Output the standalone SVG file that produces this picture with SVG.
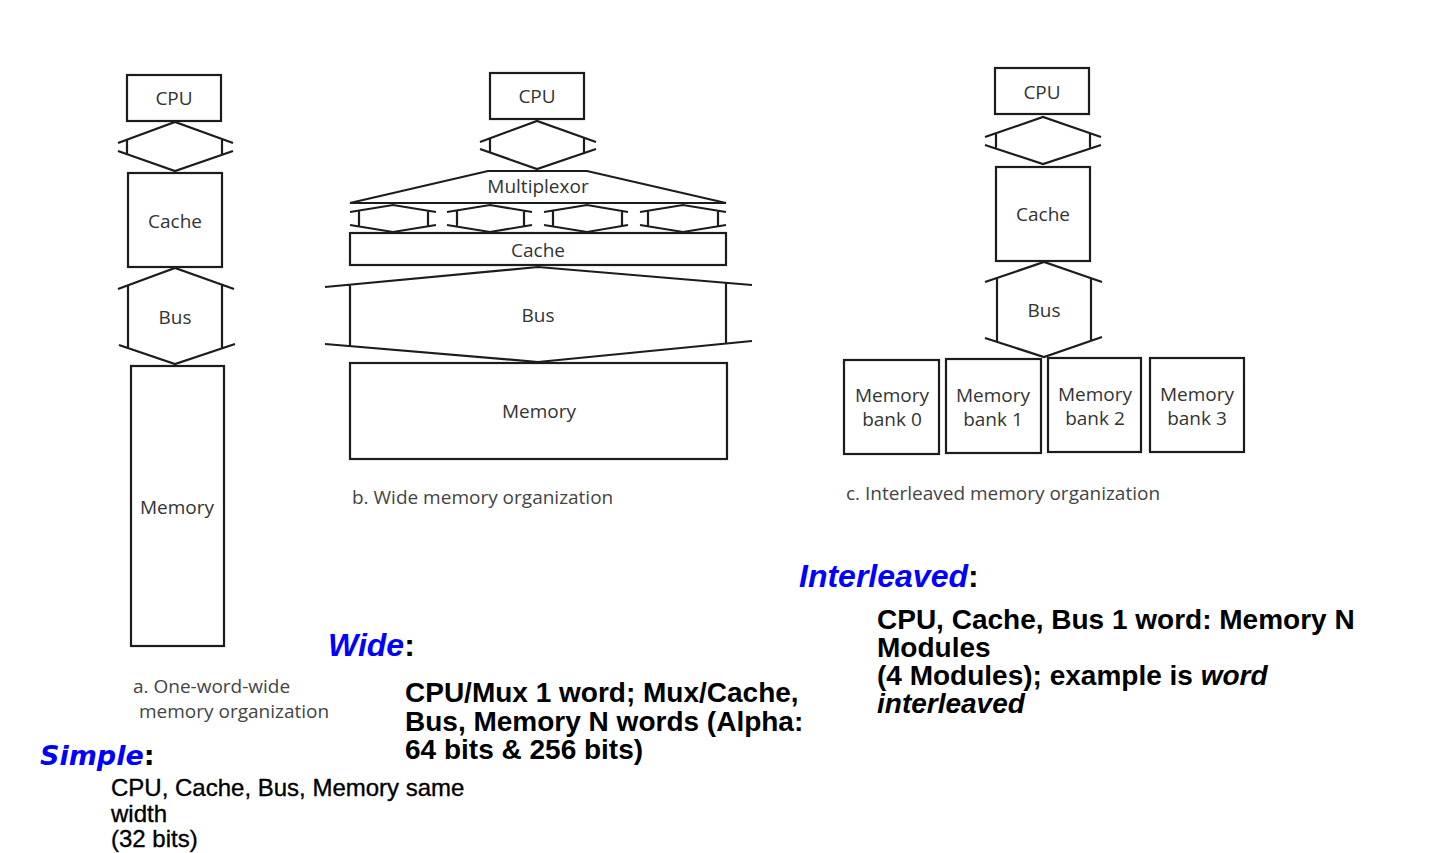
<svg xmlns="http://www.w3.org/2000/svg" width="1432" height="853" viewBox="0 0 1432 853">
<style>
.box{fill:#fff;stroke:#1c1c1c;stroke-width:2.2}
.ln{fill:none;stroke:#1c1c1c;stroke-width:2.2;stroke-linejoin:miter}
.lbl{font-family:"Open Sans","Liberation Sans",sans-serif;font-size:19px;fill:#333;text-anchor:middle}
.cap{font-family:"Open Sans","Liberation Sans",sans-serif;font-size:19px;fill:#444}
.hd{font-family:"Liberation Sans",Arial,sans-serif;font-weight:bold;font-style:italic;font-size:32px;fill:#0000ff}
.hdv{font-family:"DejaVu Sans",Verdana,sans-serif;font-weight:bold;font-style:italic;font-size:27px;fill:#0000ff}
.colon{fill:#000;font-style:normal}
.bd{font-family:"Liberation Sans",Arial,sans-serif;font-weight:bold;font-size:28px;fill:#000}
.rg{font-family:"Liberation Sans",Arial,sans-serif;font-size:24px;fill:#000;stroke:#000;stroke-width:0.35}
</style>
<rect width="1432" height="853" fill="#fff"/>

<!-- connectors / buses -->
<g id="connectors">
  <!-- a: CPU-Cache -->
  <path class="ln" d="M118,143 L175,122 L233,143 M118,151 L175,171 L233,151 M127,139.5 V154 M222,139.5 V154"/>
  <!-- a: Bus -->
  <path class="ln" d="M118,289 L175,268 L234,289 M119,345 L175,364 L235,344 M128,285 V348 M222,285 V348"/>
  <!-- b: CPU-Mux -->
  <path class="ln" d="M480,142 L537,121 L596,142 M480,149 L537,169 L596,149 M490,138.5 V152.5 M584,138.5 V152.5"/>
  <!-- b: Mux-Cache x4 -->
  <path class="ln" d="M350,212 L393,205 L436,212 M350,225 L393,232 L436,225 M359,210.5 V226.5 M428,210.5 V226.5"/>
  <path class="ln" d="M447,212 L490,205 L532,212 M447,225 L490,232 L532,225 M457,210.5 V226.5 M524,210.5 V226.5"/>
  <path class="ln" d="M544,212 L587,205 L628,212 M544,225 L587,232 L628,225 M553,210.5 V226.5 M622,210.5 V226.5"/>
  <path class="ln" d="M640,212 L683,205 L726,212 M640,225 L683,232 L726,225 M648,210.5 V226.5 M718,210.5 V226.5"/>
  <!-- b: Bus -->
  <path class="ln" d="M325,287 L538,267 L752,285 M325,344 L538,362 L752,341 M350,284.5 V346 M726,283 V343.5"/>
  <!-- c: CPU-Cache -->
  <path class="ln" d="M985,137 L1043,117 L1101,137 M985,145 L1043,164 L1101,145 M996,133.5 V147.5 M1090,133.5 V147.5"/>
  <!-- c: Bus -->
  <path class="ln" d="M985,282 L1044,262 L1102,282 M985,338 L1044,357 L1102,337 M997,278.5 V341.5 M1091,278.5 V340.5"/>
</g>

<!-- a. one-word-wide -->
<g id="a-cpu"><rect class="box" x="127" y="75" width="94" height="46"/><text class="lbl" x="174" y="105">CPU</text></g>
<g id="a-cache"><rect class="box" x="128" y="173" width="94" height="94"/><text class="lbl" x="175" y="228">Cache</text></g>
<g id="a-bus"><text class="lbl" x="175" y="324">Bus</text></g>
<g id="a-memory"><rect class="box" x="131" y="366" width="93" height="280"/><text class="lbl" x="177" y="514">Memory</text></g>
<g id="a-caption"><text class="cap" x="133" y="693">a. One-word-wide</text><text class="cap" x="139" y="718">memory organization</text></g>

<!-- b. wide -->
<g id="b-cpu"><rect class="box" x="490" y="73" width="94" height="46"/><text class="lbl" x="537" y="103">CPU</text></g>
<g id="b-mux"><path class="box" d="M488,171 L587,171 L726,203 L350,203 Z"/><text class="lbl" x="538" y="193">Multiplexor</text></g>
<g id="b-cache"><rect class="box" x="350" y="233" width="376" height="32"/><text class="lbl" x="538" y="257">Cache</text></g>
<g id="b-bus"><text class="lbl" x="538" y="322">Bus</text></g>
<g id="b-memory"><rect class="box" x="350" y="363" width="377" height="96"/><text class="lbl" x="539" y="418">Memory</text></g>
<g id="b-caption"><text class="cap" x="352" y="504">b. Wide memory organization</text></g>

<!-- c. interleaved -->
<g id="c-cpu"><rect class="box" x="995" y="68" width="94" height="46"/><text class="lbl" x="1042" y="99">CPU</text></g>
<g id="c-cache"><rect class="box" x="996" y="167" width="94" height="94"/><text class="lbl" x="1043" y="221">Cache</text></g>
<g id="c-bus"><text class="lbl" x="1044" y="317">Bus</text></g>
<g id="c-bank0"><rect class="box" x="844" y="360" width="95" height="94"/><text class="lbl" x="892" y="402">Memory</text><text class="lbl" x="892" y="426">bank 0</text></g>
<g id="c-bank1"><rect class="box" x="946" y="359" width="95" height="94"/><text class="lbl" x="993" y="402">Memory</text><text class="lbl" x="993" y="426">bank 1</text></g>
<g id="c-bank2"><rect class="box" x="1048" y="358" width="93" height="94"/><text class="lbl" x="1095" y="401">Memory</text><text class="lbl" x="1095" y="425">bank 2</text></g>
<g id="c-bank3"><rect class="box" x="1150" y="358" width="94" height="94"/><text class="lbl" x="1197" y="401">Memory</text><text class="lbl" x="1197" y="425">bank 3</text></g>
<g id="c-caption"><text class="cap" x="846" y="500">c. Interleaved memory organization</text></g>

<!-- explanatory text -->
<g id="simple-text">
  <text class="hdv" x="40" y="765">Simple<tspan class="colon">:</tspan></text>
  <text class="rg" x="111" y="796">CPU, Cache, Bus, Memory same</text>
  <text class="rg" x="111" y="822">width</text>
  <text class="rg" x="111" y="847">(32 bits)</text>
</g>
<g id="wide-text">
  <text class="hd" x="328" y="656">Wide<tspan class="colon">:</tspan></text>
  <text class="bd" x="405" y="702">CPU/Mux 1 word; Mux/Cache,</text>
  <text class="bd" x="405" y="731">Bus, Memory N words (Alpha:</text>
  <text class="bd" x="405" y="759">64 bits &amp; 256 bits)</text>
</g>
<g id="interleaved-text">
  <text class="hd" x="799" y="587">Interleaved<tspan class="colon">:</tspan></text>
  <text class="bd" x="877" y="629">CPU, Cache, Bus 1 word: Memory N</text>
  <text class="bd" x="877" y="657">Modules</text>
  <text class="bd" x="877" y="685">(4 Modules); example is <tspan font-style="italic">word</tspan></text>
  <text class="bd" x="877" y="713" font-style="italic">interleaved</text>
</g>
</svg>
